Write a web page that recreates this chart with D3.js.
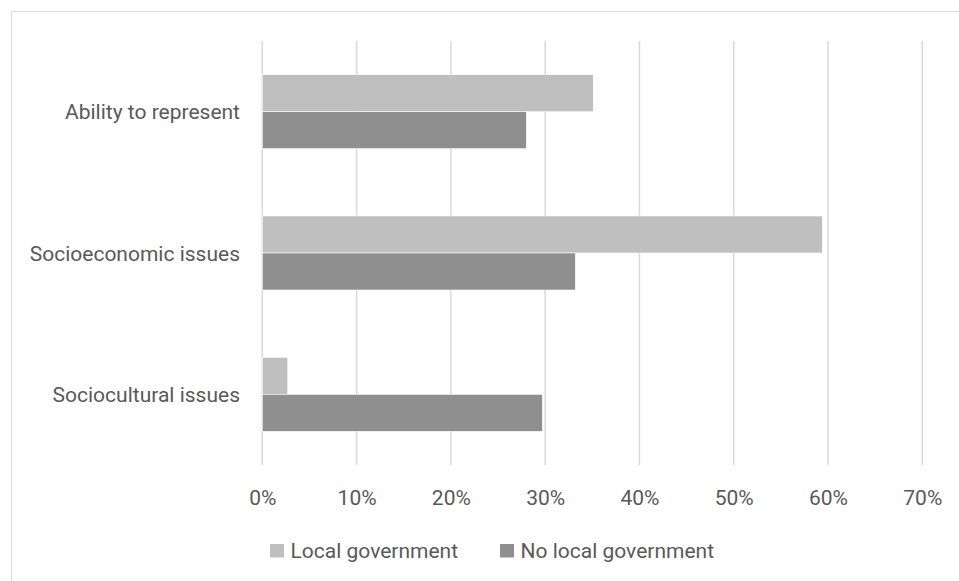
<!DOCTYPE html>
<html><head><meta charset="utf-8">
<script src="https://cdn.jsdelivr.net/npm/d3@7"></script>
<style>body{margin:0;background:#fff}svg{display:block}</style>
</head><body>
<svg id="c" width="959" height="581"></svg>
<script>
const categories = ["Ability to represent", "Socioeconomic issues", "Sociocultural issues"];
const seriesNames = ["Local government", "No local government"];
const localGov = [35.1, 59.4, 2.7];
const noLocalGov = [28.0, 33.2, 29.7];
const xTicks = [0, 10, 20, 30, 40, 50, 60, 70];
const colors = ["#bfbfbf", "#8f8f8f"];

(function () {
const svg = d3.select("#c");
const font = "Roboto, 'Open Sans', sans-serif";
const fs = 21;
const textColor = "#595959";

svg.append("rect").attr("x", 11.5).attr("y", 11.5).attr("width", 1000).attr("height", 1000)
  .attr("fill", "none").attr("stroke", "#d9d9d9").attr("stroke-width", 1);

const pl = 262.3, pr = 922.3, pt = 41, pb = 465;
const x = d3.scaleLinear().domain([0, 70]).range([pl, pr]);
const y = d3.scaleBand().domain(categories).range([pt, pb]).paddingInner(0.476).paddingOuter(0.238);
const ySub = d3.scaleBand().domain(seriesNames).range([0, y.bandwidth()]);

svg.append("g").selectAll("line").data(xTicks).join("line")
  .attr("x1", d => x(d)).attr("x2", d => x(d)).attr("y1", pt).attr("y2", pb)
  .attr("stroke", "#d9d9d9").attr("stroke-width", 1.5);

const data = categories.map((c, i) => ({cat: c, vals: [localGov[i], noLocalGov[i]]}));
const g = svg.append("g");
data.forEach(d => {
  d.vals.forEach((v, j) => {
    g.append("rect")
      .attr("x", x(0)).attr("y", y(d.cat) + ySub(seriesNames[j]))
      .attr("width", x(v) - x(0)).attr("height", ySub.bandwidth())
      .attr("fill", colors[j]).attr("stroke", "#ffffff").attr("stroke-width", 0.6);
  });
});

const xAxis = d3.axisBottom(x).tickValues(xTicks).tickFormat(d => d + "%").tickSize(0).tickPadding(0);
const ax = svg.append("g").attr("transform", "translate(0, 504.5)").call(xAxis);
ax.select(".domain").remove();
ax.selectAll("text").attr("font-family", font).attr("font-size", fs).attr("fill", textColor)
  .attr("dy", "0").attr("y", 0);

const yAxis = d3.axisLeft(y).tickSize(0).tickPadding(0);
const ay = svg.append("g").attr("transform", "translate(240, 0)").call(yAxis);
ay.select(".domain").remove();
ay.selectAll("text").attr("font-family", font).attr("font-size", fs).attr("fill", textColor)
  .attr("dy", "0.36em").attr("x", 0);

const legend = svg.append("g");
const legendX = [270, 500];
seriesNames.forEach((n, j) => {
  legend.append("rect").attr("x", legendX[j]).attr("y", 544).attr("width", 14).attr("height", 13.5).attr("fill", colors[j]);
  legend.append("text").attr("x", legendX[j] + 20.5).attr("y", 557.5)
    .attr("font-family", font).attr("font-size", fs).attr("fill", textColor).text(n);
});
})();
</script>
</body></html>
